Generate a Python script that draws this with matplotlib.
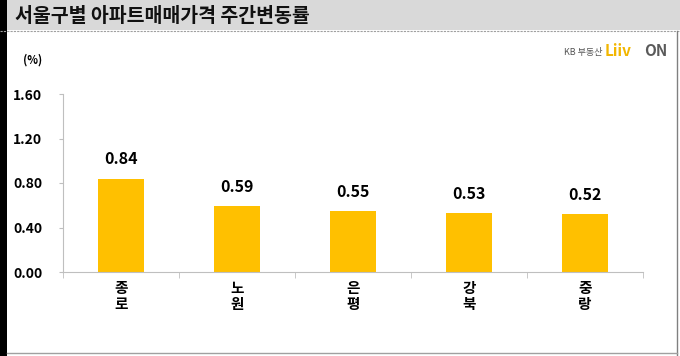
import matplotlib.pyplot as plt
from matplotlib.patches import Rectangle

plt.rcParams['font.family'] = ['Noto Sans CJK KR', 'DejaVu Sans']

# data
districts = ["종로", "노원", "은평", "강북", "중랑"]
changes = [0.84, 0.59, 0.55, 0.53, 0.52]
yticks = [0.0, 0.4, 0.8, 1.2, 1.6]

W, H = 680, 356
fig = plt.figure(figsize=(6.8, 3.56), dpi=100)

# frame: title strip, left black bar, borders
fig.patches.append(Rectangle((0, 1 - 30 / H), 1, 30 / H, transform=fig.transFigure,
                             facecolor="#d9d9d9", edgecolor="none", zorder=0))
fig.lines.append(plt.Line2D([0, 1], [1 - 31 / H] * 2, transform=fig.transFigure,
                            color="#a0a0a0", lw=0.8, ls=(0, (2, 1))))
fig.patches.append(Rectangle((0, 0), 7 / W, 1, transform=fig.transFigure,
                             facecolor="black", edgecolor="none"))
fig.lines.append(plt.Line2D([677 / W] * 2, [0, 1 - 31 / H], transform=fig.transFigure,
                            color="#808080", lw=1))
fig.lines.append(plt.Line2D([7 / W, 677 / W], [3 / H] * 2, transform=fig.transFigure,
                            color="#a0a0a0", lw=1))

fig.text(15 / W, 1 - 16 / H, "서울구별 아파트매매가격 주간변동률", fontsize=14,
         fontweight="bold", va="center", ha="left", color="#111111")

# logo
fig.text(602 / W, 1 - 52 / H, "KB 부동산", fontsize=6.5, color="#555555", va="center", ha="right")
fig.text(605 / W, 1 - 51 / H, "Liiv", fontsize=11, color="#f2b600", fontweight="bold",
         va="center", ha="left")
fig.text(644 / W, 1 - 51 / H, "ON", fontsize=11, color="#5a5a5a", fontweight="bold",
         va="center", ha="left")

ax = fig.add_axes([63 / W, 1 - 272 / H, 580 / W, 178 / H])
bars = ax.bar(range(len(districts)), changes, width=0.4, color="#ffc000")
ax.set_xlim(-0.5, len(districts) - 0.5)
ax.set_ylim(0, 1.6)
ax.set_yticks(yticks)
ax.set_yticklabels([f"{v:.2f}" for v in yticks], fontsize=10, fontweight="bold")
ax.tick_params(axis="y", length=3, color="#bfbfbf", pad=12)

ax.set_xticks([i - 0.5 for i in range(len(districts) + 1)], minor=True)
ax.set_xticks(range(len(districts)))
ax.set_xticklabels(["\n".join(d) for d in districts], fontsize=10.5, fontweight="bold",
                   linespacing=0.95)
ax.tick_params(axis="x", which="major", length=0, pad=6)
ax.tick_params(axis="x", which="minor", length=4, color="#bfbfbf")

for s in ["top", "right"]:
    ax.spines[s].set_visible(False)
ax.spines["left"].set_color("#bfbfbf")
ax.spines["bottom"].set_color("#bfbfbf")

for i, v in enumerate(changes):
    ax.text(i, v + 0.1, f"{v:.2f}", ha="center", va="bottom", fontsize=11.5, fontweight="bold")

fig.text(33 / W, 1 - 60 / H, "(%)", fontsize=8, fontweight="bold", ha="center", va="center")

fig.savefig("out.png", dpi=100)
